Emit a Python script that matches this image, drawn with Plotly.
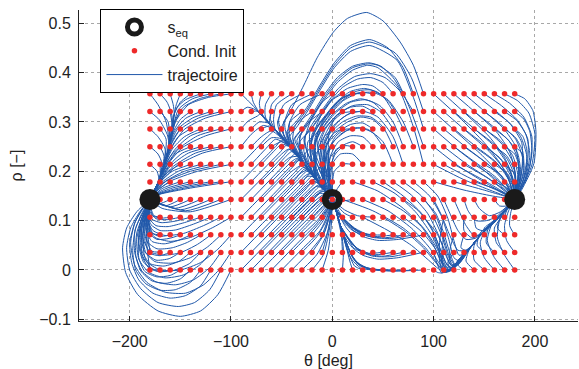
import plotly.graph_objects as go

# ---------------- data ----------------
theta_init = [-180, -170, -160, -150, -140, -130, -120, -110, -100, -90, -80, -70, -60, -50, -40,
              -30, -20, -10, 0, 10, 20, 30, 40, 50, 60, 70, 80, 90, 100, 110, 120, 130, 140,
              150, 160, 170, 180]
rho_init = [0.0, 0.0357, 0.0714, 0.1071, 0.1429, 0.1786, 0.2143, 0.25, 0.2857, 0.3214, 0.3571]

theta_eq = [-180, 0, 180]
rho_eq = [0.1429, 0.1429, 0.1429]

# shared bundles (spines), (theta, rho)
SL = [(-156,0.316),(-161,0.25),(-167,0.205),(-172,0.177),(-177,0.155),(-180,0.143)]
S0U = [(-71,0.316),(-56,0.283),(-41,0.249),(-28,0.215),(-15,0.181),(-7,0.16),(0,0.143)]
S0L = [(19,0.0),(14,0.045),(8,0.09),(3,0.125),(0,0.143)]
SR = [(108,-0.006),(117,0.003),(126,0.023),(136,0.045),(146,0.07),(158,0.095),(169,0.118),(180,0.143)]

# trajectories, (theta, rho) points
traj_left_upper = [
    [(-180,0.357),(-172,0.335),(-164,0.3)] + SL[1:],
    [(-170,0.357),(-163,0.34),(-158,0.31)] + SL[1:],
    [(-160,0.357),(-157,0.335)] + SL[0:],
    [(-150,0.357),(-154,0.335)] + SL[0:],
    [(-140,0.357),(-150,0.34)] + SL[0:],
    [(-130,0.357),(-145,0.345),(-153,0.33)] + SL[0:],
    [(-120,0.357),(-138,0.347),(-152,0.325)] + SL[1:],
    [(-110,0.357),(-130,0.348),(-147,0.33),(-156,0.3)] + SL[1:],
    [(-100,0.357),(-122,0.35),(-142,0.335),(-155,0.3)] + SL[1:],
    [(-180,0.321),(-171,0.305),(-163,0.275)] + SL[1:],
    [(-170,0.321),(-162,0.3)] + SL[1:],
    [(-160,0.321),(-158,0.29)] + SL[1:],
    [(-150,0.321),(-155,0.3)] + SL[1:],
    [(-140,0.321),(-150,0.305),(-157,0.28)] + SL[1:],
    [(-130,0.321),(-145,0.307),(-156,0.28)] + SL[1:],
    [(-120,0.321),(-138,0.308),(-153,0.285),(-160,0.255)] + SL[2:],
    [(-110,0.321),(-132,0.308),(-150,0.285),(-160,0.25)] + SL[2:],
    [(-100,0.321),(-125,0.308),(-146,0.285),(-158,0.25)] + SL[2:],
    [(-180,0.286),(-172,0.27),(-165,0.245)] + SL[2:],
    [(-170,0.286),(-164,0.265)] + SL[2:],
    [(-160,0.286),(-161,0.262)] + SL[2:],
    [(-150,0.286),(-157,0.265)] + SL[2:],
    [(-140,0.286),(-152,0.27),(-160,0.245)] + SL[2:],
    [(-130,0.286),(-146,0.27),(-158,0.245)] + SL[2:],
    [(-120,0.286),(-140,0.272),(-155,0.245)] + SL[2:],
    [(-110,0.286),(-133,0.272),(-152,0.245),(-163,0.215)] + SL[3:],
    [(-100,0.286),(-125,0.272),(-148,0.248),(-162,0.215)] + SL[3:],
    [(-180,0.25),(-172,0.235),(-168,0.215)] + SL[3:],
    [(-170,0.25),(-166,0.23)] + SL[3:],
    [(-160,0.25),(-164,0.225)] + SL[3:],
    [(-150,0.25),(-160,0.23)] + SL[3:],
    [(-140,0.25),(-155,0.235),(-164,0.21)] + SL[3:],
    [(-130,0.25),(-148,0.237),(-162,0.21)] + SL[3:],
    [(-120,0.25),(-142,0.237),(-160,0.21)] + SL[4:],
    [(-110,0.25),(-135,0.237),(-157,0.21),(-168,0.185)] + SL[4:],
    [(-100,0.25),(-128,0.237),(-153,0.212),(-167,0.185)] + SL[4:],
    [(-180,0.214),(-173,0.2),(-171,0.18)] + SL[4:],
    [(-170,0.214),(-170,0.19)] + SL[4:],
    [(-160,0.214),(-166,0.195)] + SL[4:],
    [(-150,0.214),(-163,0.198),(-171,0.178)] + SL[4:],
    [(-140,0.214),(-158,0.2),(-170,0.178)] + SL[4:],
    [(-130,0.214),(-152,0.2),(-168,0.178)] + SL[4:],
    [(-120,0.214),(-146,0.2),(-166,0.178)] + SL[4:],
    [(-110,0.214),(-140,0.2),(-164,0.18),(-174,0.16)] + SL[5:],
    [(-100,0.214),(-133,0.2),(-160,0.18),(-173,0.16)] + SL[5:],
    [(-170,0.179),(-175,0.16)] + SL[5:],
    [(-160,0.179),(-172,0.163)] + SL[5:],
    [(-150,0.179),(-168,0.165)] + SL[5:],
    [(-140,0.179),(-163,0.166),(-175,0.153)] + SL[5:],
    [(-130,0.179),(-158,0.166),(-174,0.153)] + SL[5:],
    [(-120,0.179),(-152,0.166),(-173,0.153)] + SL[5:],
    [(-110,0.179),(-146,0.166),(-172,0.153)] + SL[5:],
    [(-100,0.179),(-140,0.166),(-171,0.153)] + SL[5:],
    [(-170,0.143),(-176,0.14),(-180,0.143)],
    [(-160,0.143),(-170,0.135),(-180,0.143)],
    [(-150,0.143),(-165,0.13),(-180,0.143)],
    [(-140,0.143),(-160,0.128),(-180,0.143)],
    [(-130,0.143),(-155,0.125),(-180,0.143)],
    [(-120,0.143),(-150,0.122),(-180,0.143)],
    [(-110,0.143),(-145,0.12),(-180,0.143)],
    [(-100,0.143),(-140,0.118),(-168,0.125),(-180,0.143)],
]

traj_left_loops = [
    [(-100,0),(-113,-0.05),(-130,-0.083),(-150,-0.094),(-172,-0.083),(-192,-0.05),(-204,-0.005),(-207,0.045),(-203,0.085),(-193,0.118),(-180,0.143)],
    [(-110,0),(-121,-0.04),(-136,-0.066),(-152,-0.074),(-172,-0.066),(-189,-0.038),(-200,0.0),(-203,0.045),(-199,0.085),(-190,0.118),(-180,0.143)],
    [(-120,0),(-130,-0.032),(-145,-0.052),(-160,-0.057),(-177,-0.047),(-191,-0.02),(-198,0.015),(-200,0.055),(-195,0.095),(-188,0.122),(-180,0.143)],
    [(-130,0),(-140,-0.025),(-155,-0.04),(-170,-0.041),(-184,-0.028),(-194,0.0),(-197,0.04),(-194,0.085),(-186,0.12),(-180,0.143)],
    [(-140,0),(-150,-0.018),(-164,-0.027),(-178,-0.022),(-189,-0.002),(-194,0.03),(-193,0.075),(-186,0.115),(-180,0.143)],
    [(-150,0),(-160,-0.011),(-173,-0.014),(-185,-0.003),(-191,0.025),(-191,0.07),(-186,0.112),(-180,0.143)],
    [(-160,0),(-170,-0.004),(-181,0.004),(-188,0.03),(-189,0.07),(-185,0.11),(-180,0.143)],
    [(-170,0),(-178,0.002),(-185,0.025),(-187,0.065),(-184,0.108),(-180,0.143)],
    [(-100,0.036),(-112,0.0),(-127,-0.03),(-145,-0.047),(-165,-0.045),(-183,-0.025),(-195,0.01),(-199,0.055),(-195,0.095),(-187,0.124),(-180,0.143)],
    [(-110,0.036),(-121,0.005),(-137,-0.02),(-155,-0.03),(-174,-0.024),(-188,-0.002),(-195,0.035),(-195,0.078),(-188,0.115),(-180,0.143)],
    [(-120,0.036),(-131,0.01),(-147,-0.01),(-165,-0.016),(-181,-0.005),(-191,0.022),(-193,0.062),(-188,0.105),(-180,0.143)],
    [(-130,0.036),(-141,0.013),(-157,-0.001),(-173,-0.002),(-186,0.015),(-191,0.05),(-188,0.095),(-180,0.143)],
    [(-140,0.036),(-151,0.018),(-166,0.008),(-180,0.013),(-188,0.04),(-188,0.085),(-184,0.118),(-180,0.143)],
    [(-150,0.036),(-161,0.023),(-174,0.02),(-184,0.035),(-187,0.07),(-184,0.11),(-180,0.143)],
    [(-160,0.036),(-170,0.029),(-180,0.034),(-185,0.06),(-184,0.1),(-180,0.143)],
    [(-170,0.036),(-178,0.038),(-183,0.06),(-183,0.1),(-180,0.143)],
    [(-100,0.071),(-113,0.042),(-130,0.015),(-150,0.0),(-170,0.0),(-185,0.02),(-191,0.055),(-189,0.1),(-180,0.143)],
    [(-110,0.071),(-123,0.047),(-140,0.025),(-158,0.014),(-175,0.017),(-186,0.04),(-189,0.08),(-185,0.118),(-180,0.143)],
    [(-120,0.071),(-133,0.052),(-150,0.035),(-166,0.03),(-180,0.037),(-187,0.065),(-185,0.105),(-180,0.143)],
    [(-130,0.071),(-143,0.056),(-158,0.045),(-173,0.043),(-183,0.058),(-186,0.09),(-182,0.125),(-180,0.143)],
    [(-140,0.071),(-152,0.06),(-166,0.053),(-178,0.058),(-184,0.082),(-182,0.118),(-180,0.143)],
    [(-150,0.071),(-161,0.064),(-173,0.062),(-181,0.075),(-183,0.105),(-180,0.143)],
    [(-160,0.071),(-170,0.068),(-178,0.075),(-182,0.1),(-180,0.143)],
    [(-170,0.071),(-177,0.074),(-181,0.095),(-181,0.122),(-180,0.143)],
    [(-100,0.107),(-118,0.086),(-140,0.066),(-160,0.058),(-175,0.066),(-183,0.09),(-183,0.12),(-180,0.143)],
    [(-110,0.107),(-127,0.09),(-147,0.074),(-165,0.07),(-177,0.08),(-182,0.1),(-182,0.125),(-180,0.143)],
    [(-120,0.107),(-137,0.093),(-155,0.081),(-170,0.08),(-179,0.092),(-182,0.115),(-180,0.143)],
    [(-130,0.107),(-146,0.096),(-162,0.088),(-174,0.09),(-181,0.105),(-181,0.127),(-180,0.143)],
    [(-140,0.107),(-155,0.099),(-169,0.096),(-178,0.103),(-181,0.122),(-180,0.143)],
    [(-150,0.107),(-163,0.102),(-174,0.104),(-180,0.118),(-180,0.143)],
    [(-160,0.107),(-170,0.105),(-177,0.11),(-180,0.127),(-180,0.143)],
    [(-170,0.107),(-176,0.11),(-179,0.125),(-180,0.143)],
    [(-180,0.0),(-183,0.05),(-182,0.1),(-180,0.143)],
    [(-180,0.036),(-182,0.075),(-181,0.11),(-180,0.143)],
    [(-180,0.071),(-181,0.1),(-180,0.143)],
]

traj_mid = [
    [(-90,0),(-50,0.084),(-20,0.145),(-10,0.16),(-4,0.152),(0,0.143)],
    [(-80,0),(-45,0.074),(-18,0.13),(-7,0.147),(0,0.143)],
    [(-70,0),(-40,0.063),(-15,0.115),(-5,0.135),(0,0.143)],
    [(-60,0),(-35,0.053),(-15,0.095),(-5,0.125),(0,0.143)],
    [(-50,0),(-30,0.042),(-12,0.08),(-3,0.12),(0,0.143)],
    [(-40,0),(-22,0.038),(-8,0.075),(-2,0.115),(0,0.143)],
    [(-30,0),(-15,0.032),(-5,0.075),(-1,0.115),(0,0.143)],
    [(-20,0),(-9,0.03),(-3,0.08),(0,0.143)],
    [(-10,0),(-4,0.04),(-1,0.09),(0,0.143)],
    [(-90,0.036),(-55,0.11),(-30,0.16),(-18,0.18)] + S0U[5:],
    [(-80,0.036),(-50,0.099),(-25,0.15),(-14,0.172)] + S0U[5:],
    [(-70,0.036),(-40,0.099),(-20,0.14),(-9,0.16),(-3,0.152),(0,0.143)],
    [(-60,0.036),(-35,0.088),(-15,0.13),(-5,0.146),(0,0.143)],
    [(-50,0.036),(-28,0.082),(-12,0.115),(-4,0.135),(0,0.143)],
    [(-40,0.036),(-22,0.074),(-9,0.105),(-3,0.13),(0,0.143)],
    [(-30,0.036),(-15,0.068),(-6,0.1),(-2,0.128),(0,0.143)],
    [(-20,0.036),(-9,0.07),(-3,0.11),(0,0.143)],
    [(-10,0.036),(-4,0.08),(-1,0.12),(0,0.143)],
    [(-90,0.071),(-60,0.134),(-38,0.18),(-27,0.205)] + S0U[4:],
    [(-80,0.071),(-50,0.134),(-32,0.172),(-22,0.195)] + S0U[4:],
    [(-70,0.071),(-45,0.124),(-27,0.162),(-17,0.183)] + S0U[5:],
    [(-60,0.071),(-38,0.117),(-22,0.15),(-12,0.17)] + S0U[5:],
    [(-50,0.071),(-30,0.113),(-16,0.142),(-8,0.153),(0,0.143)],
    [(-40,0.071),(-22,0.108),(-10,0.135),(-3,0.145),(0,0.143)],
    [(-30,0.071),(-15,0.1),(-6,0.125),(0,0.143)],
    [(-20,0.071),(-9,0.1),(-3,0.125),(0,0.143)],
    [(-10,0.071),(-4,0.105),(0,0.143)],
    [(-90,0.107),(-60,0.17),(-42,0.208),(-34,0.225)] + S0U[3:],
    [(-80,0.107),(-55,0.16),(-38,0.196),(-30,0.212)] + S0U[4:],
    [(-70,0.107),(-48,0.153),(-33,0.185),(-25,0.2)] + S0U[4:],
    [(-60,0.107),(-40,0.149),(-27,0.176),(-20,0.19)] + S0U[4:],
    [(-50,0.107),(-33,0.143),(-22,0.165),(-15,0.178)] + S0U[5:],
    [(-40,0.107),(-25,0.138),(-15,0.158),(-9,0.163)] + S0U[5:],
    [(-30,0.107),(-17,0.134),(-8,0.15),(0,0.143)],
    [(-20,0.107),(-10,0.128),(-4,0.14),(0,0.143)],
    [(-10,0.107),(-4,0.125),(0,0.143)],
    [(-90,0.143),(-65,0.195),(-48,0.232),(-42,0.245)] + S0U[3:],
    [(-80,0.143),(-58,0.19),(-44,0.22),(-37,0.235)] + S0U[3:],
    [(-70,0.143),(-52,0.181),(-39,0.209),(-33,0.222)] + S0U[3:],
    [(-60,0.143),(-45,0.175),(-34,0.198),(-28,0.208)] + S0U[4:],
    [(-50,0.143),(-37,0.17),(-28,0.189),(-22,0.196)] + S0U[4:],
    [(-40,0.143),(-30,0.164),(-22,0.18),(-17,0.184)] + S0U[5:],
    [(-30,0.143),(-22,0.16),(-15,0.17),(-8,0.162)] + S0U[6:],
    [(-20,0.143),(-13,0.155),(-6,0.154),(0,0.143)],
    [(-10,0.143),(-5,0.148),(0,0.143)],
    [(-90,0.179),(-70,0.221),(-56,0.25),(-50,0.263)] + S0U[2:],
    [(-80,0.179),(-62,0.217),(-51,0.24),(-46,0.252)] + S0U[2:],
    [(-70,0.179),(-55,0.21),(-45,0.232),(-40,0.24)] + S0U[3:],
    [(-60,0.179),(-48,0.204),(-40,0.22),(-35,0.226)] + S0U[3:],
    [(-50,0.179),(-40,0.2),(-33,0.21)] + S0U[3:],
    [(-40,0.179),(-32,0.195),(-24,0.203)] + S0U[4:],
    [(-30,0.179),(-24,0.19),(-18,0.188)] + S0U[5:],
    [(-20,0.179),(-13,0.177),(-7,0.162),(0,0.143)],
    [(-10,0.179),(-6,0.167),(0,0.143)],
    [(-90,0.214),(-75,0.246),(-64,0.27)] + S0U[1:],
    [(-80,0.214),(-66,0.245),(-56,0.265)] + S0U[2:],
    [(-70,0.214),(-58,0.24),(-50,0.255)] + S0U[2:],
    [(-60,0.214),(-50,0.235),(-43,0.245)] + S0U[3:],
    [(-50,0.214),(-42,0.228),(-34,0.23)] + S0U[3:],
    [(-40,0.214),(-33,0.222)] + S0U[3:],
    [(-20,0.214),(-22,0.2)] + S0U[5:],
    [(-10,0.214),(-15,0.2),(-12,0.178),(-6,0.16),(0,0.143)],
    [(-90,0.25),(-80,0.275),(-68,0.293)] + S0U[1:],
    [(-80,0.25),(-70,0.27),(-60,0.282)] + S0U[2:],
    [(-70,0.25),(-60,0.268),(-50,0.266)] + S0U[2:],
    [(-60,0.25),(-50,0.26)] + S0U[2:],
    [(-30,0.25),(-33,0.238)] + S0U[3:],
    [(-20,0.25),(-27,0.235),(-26,0.215)] + S0U[4:],
    [(-10,0.25),(-18,0.23),(-18,0.2)] + S0U[5:],
    [(-90,0.286),(-83,0.302),(-74,0.312)] + S0U[0:],
    [(-80,0.286),(-72,0.3),(-62,0.297)] + S0U[1:],
    [(-70,0.286),(-62,0.292)] + S0U[1:],
    [(-50,0.286),(-47,0.268)] + S0U[2:],
    [(-30,0.286),(-38,0.265),(-38,0.245)] + S0U[3:],
    [(-20,0.286),(-32,0.26),(-32,0.235)] + S0U[4:],
    [(-10,0.286),(-24,0.26),(-24,0.225)] + S0U[4:],
    [(-90,0.321),(-84,0.33),(-76,0.325)] + S0U[0:],
    [(-80,0.321),(-74,0.322)] + S0U[0:],
    [(-70,0.321),(-68,0.31)] + S0U[1:],
    [(-60,0.321),(-62,0.3)] + S0U[1:],
    [(-50,0.321),(-54,0.3),(-52,0.28)] + S0U[2:],
    [(-40,0.321),(-48,0.3),(-48,0.275)] + S0U[2:],
    [(-30,0.321),(-42,0.3),(-44,0.275)] + S0U[2:],
    [(-20,0.321),(-36,0.295),(-39,0.265)] + S0U[3:],
    [(-10,0.321),(-28,0.29),(-33,0.255)] + S0U[3:],
    [(-90,0.357),(-84,0.345),(-76,0.328)] + S0U[0:],
    [(-80,0.357),(-78,0.34),(-73,0.322)] + S0U[0:],
    [(-70,0.357),(-72,0.338),(-70,0.318)] + S0U[1:],
    [(-60,0.357),(-66,0.335),(-66,0.31)] + S0U[1:],
    [(-50,0.357),(-60,0.335),(-61,0.305)] + S0U[1:],
    [(-40,0.357),(-55,0.335),(-58,0.305)] + S0U[1:],
    [(-30,0.357),(-48,0.335),(-53,0.3)] + S0U[2:],
    [(-20,0.357),(-40,0.335),(-47,0.3),(-45,0.27)] + S0U[2:],
    [(-10,0.357),(-32,0.335),(-42,0.3),(-42,0.27)] + S0U[3:],
]

traj_arches = [
    [(90,0.357),(80,0.415),(67,0.462),(50,0.505),(34,0.522),(15,0.51),(1,0.482),(-15,0.43),(-28,0.375),(-40,0.327),(-50,0.29),(-52,0.275),(-45,0.258),(-30,0.222),(-15,0.181),(0,0.143)],
    [(80,0.357),(70,0.41),(55,0.45),(37,0.467),(18,0.455),(2,0.42),(-12,0.375),(-25,0.33),(-36,0.3),(-45,0.28),(-42,0.258),(-30,0.222),(-15,0.181),(0,0.143)],
    [(90,0.321),(78,0.39),(62,0.44),(37,0.462),(18,0.45),(2,0.415),(-12,0.37),(-25,0.325),(-36,0.295),(-44,0.275),(-40,0.255),(-28,0.215),(-15,0.181),(0,0.143)],
    [(90,0.286),(80,0.35),(64,0.425),(37,0.455),(18,0.443),(2,0.41),(-12,0.365),(-25,0.32),(-35,0.29),(-42,0.27),(-38,0.25),(-28,0.215),(-15,0.181),(0,0.143)],
    [(70,0.357),(60,0.39),(48,0.413),(36,0.42),(20,0.413),(5,0.39),(-8,0.355),(-20,0.315),(-30,0.285),(-37,0.265),(-32,0.24),(-22,0.205),(-10,0.17),(0,0.143)],
    [(90,0.25),(78,0.32),(62,0.39),(45,0.415),(36,0.418),(20,0.41),(5,0.385),(-8,0.35),(-20,0.31),(-30,0.28),(-35,0.262),(-28,0.228),(-15,0.182),(0,0.143)],
    [(90,0.214),(80,0.29),(65,0.37),(45,0.41),(35,0.415),(20,0.405),(5,0.38),(-10,0.34),(-22,0.3),(-32,0.27),(-30,0.24),(-20,0.2),(0,0.143)],
    [(60,0.357),(50,0.38),(38,0.39),(25,0.387),(10,0.37),(-5,0.335),(-18,0.295),(-27,0.27),(-25,0.24),(-15,0.2),(0,0.143)],
    [(50,0.357),(40,0.373),(30,0.376),(15,0.368),(0,0.345),(-12,0.31),(-22,0.28),(-22,0.25),(-12,0.2),(0,0.143)],
    [(80,0.321),(68,0.36),(52,0.39),(38,0.398),(22,0.392),(6,0.368),(-8,0.33),(-20,0.295),(-28,0.265),(-24,0.235),(-14,0.19),(0,0.143)],
    [(70,0.286),(58,0.335),(45,0.36),(32,0.368),(18,0.362),(4,0.34),(-10,0.305),(-20,0.275),(-20,0.245),(-12,0.2),(0,0.143)],
    [(80,0.25),(70,0.3),(55,0.345),(40,0.36),(25,0.358),(10,0.342),(-4,0.31),(-16,0.275),(-18,0.245),(-10,0.2),(0,0.143)],
    [(40,0.357),(30,0.36),(18,0.355),(5,0.335),(-8,0.3),(-15,0.265),(-12,0.225),(-5,0.18),(0,0.143)],
    [(60,0.286),(48,0.32),(35,0.335),(20,0.333),(5,0.315),(-7,0.285),(-12,0.255),(-8,0.21),(0,0.143)],
    [(70,0.214),(60,0.27),(45,0.31),(30,0.322),(15,0.315),(0,0.29),(-8,0.26),(-8,0.22),(-3,0.18),(0,0.143)],
    [(50,0.286),(40,0.305),(28,0.31),(15,0.3),(2,0.28),(-6,0.25),(-5,0.21),(0,0.143)],
    [(60,0.214),(50,0.26),(35,0.285),(20,0.288),(8,0.275),(-2,0.25),(-4,0.21),(0,0.143)],
    [(30,0.321),(20,0.32),(8,0.305),(-2,0.28),(-8,0.25),(-7,0.21),(-3,0.175),(0,0.143)],
    [(40,0.25),(30,0.27),(18,0.272),(6,0.26),(-2,0.23),(-3,0.19),(0,0.143)],
    [(20,0.286),(12,0.285),(3,0.27),(-4,0.24),(-4,0.2),(0,0.143)],
    [(30,0.214),(20,0.235),(8,0.235),(0,0.215),(-2,0.18),(0,0.143)],
    [(20,0.214),(10,0.215),(2,0.2),(0,0.17),(0,0.143)],
    [(10,0.321),(3,0.31),(-3,0.28),(-4,0.24),(-3,0.2),(0,0.143)],
    [(10,0.25),(4,0.245),(0,0.22),(0,0.18),(0,0.143)],
    [(60,0.321),(50,0.352),(38,0.365),(25,0.363),(10,0.348),(-4,0.318),(-16,0.285),(-22,0.258)] + S0U[4:],
    [(70,0.25),(60,0.3),(47,0.333),(33,0.345),(18,0.34),(3,0.318),(-10,0.285),(-17,0.255)] + S0U[4:],
    [(50,0.321),(40,0.34),(28,0.347),(14,0.338),(0,0.315),(-12,0.28),(-18,0.25)] + S0U[4:],
    [(40,0.321),(30,0.332),(18,0.33),(5,0.315),(-8,0.285),(-14,0.255),(-12,0.22)] + S0U[5:],
    [(60,0.25),(50,0.29),(38,0.31),(24,0.312),(10,0.3),(-3,0.275),(-10,0.245)] + S0U[5:],
    [(50,0.25),(40,0.278),(28,0.288),(14,0.282),(2,0.262),(-6,0.235)] + S0U[5:],
    [(40,0.286),(30,0.298),(18,0.295),(6,0.28),(-5,0.255),(-8,0.225)] + S0U[5:],
    [(30,0.25),(20,0.26),(8,0.25),(-2,0.228)] + S0U[5:],
    [(20,0.357),(10,0.35),(0,0.33),(-10,0.3),(-16,0.265)] + S0U[4:],
    [(30,0.357),(20,0.357),(8,0.345),(-4,0.318),(-14,0.28),(-18,0.25)] + S0U[4:],
    [(10,0.357),(0,0.345),(-10,0.318),(-18,0.28),(-22,0.245)] + S0U[4:],
    [(0,0.357),(-10,0.34),(-20,0.31),(-26,0.275),(-28,0.24)] + S0U[4:],
    [(20,0.321),(10,0.318),(0,0.3),(-8,0.27),(-12,0.235)] + S0U[5:],
    [(0,0.321),(-10,0.305),(-18,0.275),(-22,0.24)] + S0U[4:],
    [(0,0.286),(-8,0.27),(-14,0.245),(-16,0.21)] + S0U[5:],
    [(0,0.25),(-5,0.235),(-8,0.205)] + S0U[5:],
    [(0,0.214),(-3,0.195),(-4,0.17),(0,0.143)],
    [(0,0.179),(-1,0.16),(0,0.143)],
    [(10,0.286),(2,0.278),(-6,0.255),(-9,0.22)] + S0U[5:],
    [(20,0.25),(12,0.252),(3,0.235),(-3,0.2)] + S0U[6:],
    [(10,0.179),(5,0.165),(0,0.143)],
]

traj_center_fan = [
    [(10,0.143),(40,0.12),(70,0.085),(92,0.045),(104,0.012),(112,-0.004),(121,0.006),(128,0.025),(136,0.045)] + SR[4:],
    [(30,0.143),(55,0.12),(78,0.085),(96,0.045),(106,0.012),(114,-0.003),(122,0.008),(130,0.03),(138,0.05)] + SR[4:],
    [(50,0.143),(70,0.12),(88,0.088),(100,0.05),(108,0.015),(115,0.0),(123,0.01),(131,0.032),(140,0.055)] + SR[4:],
    [(70,0.143),(85,0.12),(98,0.085),(106,0.045),(112,0.015),(118,0.004),(126,0.015),(134,0.038)] + SR[4:],
    [(90,0.143),(102,0.115),(110,0.075),(116,0.035),(121,0.012),(128,0.02),(136,0.045)] + SR[4:],
    [(20,0.179),(45,0.16),(70,0.125),(90,0.085),(103,0.045),(110,0.012),(116,0.0),(124,0.012),(132,0.035)] + SR[4:],
    [(40,0.179),(62,0.155),(82,0.118),(97,0.075),(107,0.032),(113,0.006),(120,0.004),(128,0.026)] + SR[3:],
    [(50,0.179),(70,0.15),(88,0.115),(100,0.075),(108,0.035),(114,0.008),(121,0.005),(129,0.028)] + SR[3:],
    [(60,0.179),(78,0.152),(94,0.115),(105,0.07),(112,0.03),(118,0.008),(125,0.012),(132,0.034)] + SR[3:],
    [(70,0.179),(88,0.15),(102,0.11),(110,0.065),(116,0.025),(122,0.008),(130,0.03)] + SR[3:],
    [(80,0.179),(96,0.15),(108,0.108),(115,0.062),(120,0.025),(126,0.018),(134,0.04)] + SR[4:],
    [(90,0.179),(104,0.15),(114,0.105),(120,0.06),(125,0.03),(132,0.035),(140,0.055)] + SR[4:],
    [(30,0.107),(55,0.08),(78,0.05),(95,0.02),(105,0.002),(112,-0.005),(120,0.002)] + SR[2:],
    [(50,0.107),(72,0.078),(90,0.045),(102,0.015),(110,-0.002),(118,0.0)] + SR[2:],
    [(70,0.107),(88,0.078),(101,0.045),(108,0.015),(113,0.0),(119,0.003)] + SR[2:],
    [(90,0.107),(103,0.075),(111,0.04),(116,0.012),(121,0.008),(127,0.025)] + SR[3:],
    [(100,0.071),(106,0.035),(110,0.008),(114,-0.002)] + SR[1:],
    [(100,0.036),(104,0.01),(108,-0.006)] + SR[1:],
    [(100,0.0),(104,-0.005)] + SR[0:],
    [(100,0.107),(108,0.07),(114,0.03),(119,0.01),(125,0.015)] + SR[3:],
]

traj_center_low = [
    [(90,0.0),(65,-0.002),(42,0.0),(28,0.008),(20,0.025),(14,0.055),(8,0.09),(3,0.125),(0,0.143)],
    [(70,0.0),(50,0.0),(33,0.005),(22,0.02),(15,0.05)] + S0L[2:],
    [(50,0.0),(36,0.002),(25,0.012),(17,0.04)] + S0L[2:],
    [(30,0.0),(22,0.008),(16,0.035)] + S0L[2:],
    [(10,0.0),(11,0.04)] + S0L[2:],
    [(20,0.0),(17,0.02)] + S0L[1:],
    [(80,0.0),(58,-0.002),(38,0.002),(25,0.014),(17,0.038)] + S0L[2:],
    [(60,0.0),(43,0.001),(29,0.008),(19,0.03)] + S0L[2:],
    [(40,0.0),(28,0.004),(19,0.022)] + S0L[1:],
    [(90,0.036),(65,0.025),(45,0.022),(30,0.03),(20,0.045),(13,0.065)] + S0L[2:],
    [(70,0.036),(50,0.028),(33,0.033),(22,0.048),(14,0.068)] + S0L[2:],
    [(50,0.036),(36,0.034),(24,0.045),(15,0.068)] + S0L[2:],
    [(30,0.036),(21,0.045),(14,0.07)] + S0L[2:],
    [(10,0.036),(9,0.07)] + S0L[3:],
    [(80,0.036),(58,0.027),(40,0.028),(26,0.04),(16,0.062)] + S0L[2:],
    [(60,0.036),(43,0.031),(28,0.038),(18,0.058)] + S0L[2:],
    [(90,0.071),(65,0.062),(45,0.06),(30,0.068),(18,0.085),(10,0.105)] + S0L[3:],
    [(70,0.071),(50,0.065),(33,0.07),(20,0.087),(10,0.107)] + S0L[3:],
    [(50,0.071),(35,0.072),(22,0.085),(11,0.105)] + S0L[3:],
    [(30,0.071),(20,0.08),(10,0.1)] + S0L[3:],
    [(10,0.071),(6,0.105)] + S0L[3:],
    [(10,0.107),(5,0.125),(0,0.143)],
    [(80,0.071),(58,0.064),(40,0.066),(26,0.076),(14,0.097)] + S0L[3:],
    [(60,0.071),(42,0.068),(28,0.076),(16,0.093)] + S0L[3:],
    [(40,0.071),(28,0.076),(16,0.09)] + S0L[3:],
    [(20,0.071),(14,0.085)] + S0L[3:],
    [(20,0.107),(12,0.115),(5,0.13),(0,0.143)],
    [(40,0.107),(25,0.11),(12,0.122),(0,0.143)],
    [(20,0.143),(10,0.14),(0,0.143)],
]

traj_right_upper = [
    [(100,0.357),(125,0.31),(150,0.258),(166,0.215),(175,0.178),(180,0.143)],
    [(110,0.357),(133,0.314),(155,0.27),(170,0.228),(178,0.185),(180,0.143)],
    [(120,0.357),(142,0.318),(162,0.28),(175,0.24),(181,0.19),(180,0.143)],
    [(130,0.357),(150,0.322),(169,0.287),(181,0.25),(184,0.195),(180,0.143)],
    [(140,0.357),(158,0.328),(176,0.295),(187,0.258),(187,0.2),(182,0.155),(180,0.143)],
    [(150,0.357),(167,0.333),(183,0.303),(193,0.265),(192,0.205),(184,0.158),(180,0.143)],
    [(160,0.357),(175,0.338),(189,0.31),(197,0.27),(195,0.21),(185,0.16),(180,0.143)],
    [(170,0.357),(183,0.343),(194,0.318),(200,0.275),(197,0.213),(186,0.162),(180,0.143)],
    [(180,0.357),(190,0.347),(198,0.323),(201,0.28),(199,0.216),(187,0.163),(180,0.143)],
    [(100,0.321),(125,0.275),(148,0.232),(165,0.195),(175,0.165),(180,0.143)],
    [(110,0.321),(133,0.28),(155,0.24),(170,0.203),(178,0.17),(180,0.143)],
    [(120,0.321),(142,0.283),(162,0.247),(174,0.21),(180,0.172),(180,0.143)],
    [(130,0.321),(150,0.287),(168,0.254),(179,0.215),(181,0.175),(180,0.143)],
    [(140,0.321),(158,0.292),(175,0.26),(184,0.22),(183,0.175),(180,0.143)],
    [(150,0.321),(166,0.296),(181,0.265),(188,0.225),(185,0.178),(180,0.143)],
    [(160,0.321),(174,0.3),(186,0.27),(192,0.23),(188,0.18),(180,0.143)],
    [(170,0.321),(182,0.303),(191,0.275),(195,0.233),(190,0.182),(180,0.143)],
    [(180,0.321),(189,0.306),(195,0.28),(197,0.237),(191,0.183),(180,0.143)],
    [(100,0.286),(125,0.242),(148,0.205),(166,0.172),(180,0.143)],
    [(110,0.286),(133,0.247),(155,0.212),(170,0.178),(180,0.143)],
    [(120,0.286),(142,0.25),(162,0.218),(174,0.183),(180,0.143)],
    [(130,0.286),(150,0.254),(167,0.222),(177,0.186),(180,0.143)],
    [(140,0.286),(158,0.258),(172,0.227),(180,0.19),(180,0.143)],
    [(150,0.286),(166,0.262),(178,0.232),(183,0.193),(180,0.143)],
    [(160,0.286),(173,0.265),(183,0.236),(186,0.195),(182,0.16),(180,0.143)],
    [(170,0.286),(181,0.268),(188,0.24),(189,0.197),(183,0.16),(180,0.143)],
    [(180,0.286),(188,0.271),(192,0.243),(191,0.198),(184,0.16),(180,0.143)],
    [(100,0.25),(125,0.21),(150,0.178),(180,0.143)],
    [(110,0.25),(133,0.214),(156,0.183),(180,0.143)],
    [(120,0.25),(142,0.217),(162,0.187),(180,0.143)],
    [(130,0.25),(150,0.22),(167,0.19),(180,0.143)],
    [(140,0.25),(157,0.225),(172,0.194),(180,0.143)],
    [(150,0.25),(165,0.228),(176,0.197),(180,0.143)],
    [(160,0.25),(172,0.232),(180,0.2),(181,0.165),(180,0.143)],
    [(170,0.25),(180,0.235),(185,0.203),(182,0.165),(180,0.143)],
    [(180,0.25),(187,0.237),(189,0.205),(184,0.165),(180,0.143)],
    [(100,0.214),(130,0.183),(158,0.16),(180,0.143)],
    [(110,0.214),(137,0.185),(162,0.162),(180,0.143)],
    [(120,0.214),(145,0.187),(165,0.163),(180,0.143)],
    [(130,0.214),(152,0.188),(169,0.164),(180,0.143)],
    [(140,0.214),(158,0.19),(172,0.165),(180,0.143)],
    [(150,0.214),(166,0.193),(176,0.166),(180,0.143)],
    [(160,0.214),(173,0.195),(179,0.168),(180,0.143)],
    [(170,0.214),(179,0.197),(182,0.169),(180,0.143)],
    [(180,0.214),(185,0.2),(184,0.17),(180,0.143)],
    [(100,0.179),(130,0.162),(158,0.15),(180,0.143)],
    [(120,0.179),(148,0.163),(168,0.151),(180,0.143)],
    [(140,0.179),(160,0.165),(174,0.152),(180,0.143)],
    [(160,0.179),(172,0.167),(178,0.153),(180,0.143)],
    [(180,0.179),(182,0.165),(180,0.143)],
]

traj_right_low = [
    [(180,0.0),(170,0.03),(163,0.065),(165,0.1),(172,0.125),(180,0.143)],
    [(170,0.0),(160,0.025),(153,0.06),(158,0.095),(169,0.118),(180,0.143)],
    [(160,0.0),(150,0.025),(146,0.055),(152,0.085),(162,0.105),(172,0.125),(180,0.143)],
    [(150,0.0),(140,0.02),(140,0.05),(148,0.075),(158,0.095),(169,0.118),(180,0.143)],
    [(140,0.0),(132,0.018),(136,0.045),(146,0.07),(158,0.095),(169,0.118),(180,0.143)],
    [(130,0.0),(124,0.01),(128,0.03),(138,0.05),(146,0.07),(158,0.095),(180,0.143)],
    [(180,0.036),(172,0.06),(170,0.09),(174,0.12),(180,0.143)],
    [(180,0.071),(175,0.09),(176,0.115),(180,0.143)],
    [(170,0.071),(163,0.085),(166,0.108),(174,0.128),(180,0.143)],
    [(160,0.036),(152,0.055),(154,0.085),(164,0.108),(180,0.143)],
    [(120,0.143),(125,0.12),(132,0.09),(140,0.07),(150,0.075),(160,0.097),(169,0.118),(180,0.143)],
    [(110,0.071),(108,0.03),(110,0.0),(117,0.003),(126,0.023),(136,0.045),(146,0.07),(158,0.095),(169,0.118),(180,0.143)],
    [(120,0.071),(116,0.04),(117,0.01),(124,0.015),(134,0.04),(146,0.07),(158,0.095),(169,0.118),(180,0.143)],
    [(110,0.107),(106,0.06),(106,0.015),(110,-0.004),(117,0.003),(126,0.023),(136,0.045),(146,0.07),(169,0.118),(180,0.143)],
    [(140,0.107),(142,0.085),(148,0.08),(158,0.095),(169,0.118),(180,0.143)],
    [(140,0.143),(145,0.125),(155,0.11),(166,0.118),(180,0.143)],
    [(170,0.036),(162,0.055),(160,0.085),(168,0.11),(180,0.143)],
    [(150,0.036),(143,0.05),(146,0.075),(158,0.095),(169,0.118),(180,0.143)],
    [(150,0.071),(150,0.085),(158,0.098),(169,0.118),(180,0.143)],
    [(170,0.107),(172,0.12),(180,0.143)],
    [(160,0.143),(165,0.13),(172,0.13),(180,0.143)],
    [(120,0.036),(114,0.015),(117,0.003),(126,0.023),(136,0.045),(146,0.07),(158,0.095),(169,0.118),(180,0.143)],
    [(130,0.071),(127,0.045),(132,0.04),(140,0.055),(150,0.078),(162,0.1),(180,0.143)],
    [(130,0.107),(130,0.08),(138,0.065),(148,0.075),(160,0.098),(180,0.143)],
    [(110,0.036),(107,0.008),(110,-0.004),(117,0.003),(126,0.023),(136,0.045),(146,0.07),(158,0.095),(169,0.118),(180,0.143)],
    [(110,0.0),(112,-0.004)] + SR[1:],
    [(120,0.0),(121,0.008)] + SR[2:],
    [(100,0.143),(108,0.11),(116,0.07),(124,0.04),(132,0.04),(140,0.055)] + SR[4:],
    [(110,0.143),(116,0.115),(124,0.08),(132,0.062),(142,0.065),(152,0.085)] + SR[5:],
    [(130,0.143),(134,0.12),(142,0.1),(152,0.1),(162,0.108),(172,0.128),(180,0.143)],
]

# ---------------- figure ----------------
def flatten(curves):
    xs, ys = [], []
    for c in curves:
        for t, r in c:
            xs.append(t)
            ys.append(r)
        xs.append(None)
        ys.append(None)
    return xs, ys

LINE_COLOR = '#2058aa'
fig = go.Figure()

families = [traj_left_upper, traj_left_loops, traj_mid, traj_arches, traj_center_fan,
            traj_center_low, traj_right_upper, traj_right_low]
for i, fam in enumerate(families):
    xs, ys = flatten(fam)
    fig.add_trace(go.Scatter(
        x=xs, y=ys, mode='lines',
        line=dict(color=LINE_COLOR, width=1, shape='spline', smoothing=0.6),
        name='trajectoire', showlegend=(i == 0),
        legendrank=3, connectgaps=False, hoverinfo='skip'))

gx = [t for r in rho_init for t in theta_init]
gy = [r for r in rho_init for t in theta_init]
fig.add_trace(go.Scatter(
    x=gx, y=gy, mode='markers',
    marker=dict(color='#ee2a2a', size=5.5),
    name='Cond. Init', legendrank=2))

fig.add_trace(go.Scatter(
    x=[theta_eq[0], theta_eq[2]], y=[rho_eq[0], rho_eq[2]], mode='markers',
    marker=dict(symbol='circle', color='#1a1a1a', size=21),
    showlegend=False))
fig.add_trace(go.Scatter(
    x=[theta_eq[1]], y=[rho_eq[1]], mode='markers',
    marker=dict(symbol='circle-open', color='#1a1a1a', size=14,
                line=dict(width=7, color='#1a1a1a')),
    name='s<sub>eq</sub>', legendrank=1))

FONT = 'Liberation Sans'
fig.update_layout(
    width=579, height=369,
    margin=dict(l=79, r=1, t=10, b=48, autoexpand=False),
    paper_bgcolor='white', plot_bgcolor='white',
    font=dict(family=FONT, size=16, color='#222222'),
    showlegend=True,
    legend=dict(x=0.043, y=1.003, xanchor='left', yanchor='top',
                bgcolor='white', bordercolor='black', borderwidth=1,
                font=dict(size=16, color='#222222'),
                itemwidth=56, tracegroupgap=0),
)
fig.update_xaxes(
    range=[-250, 242.5], tickvals=[-200, -100, 0, 100, 200],
    ticktext=['−200', '−100', '0', '100', '200'],
    showgrid=True, gridcolor='#a8a8a8', griddash='dot', gridwidth=1,
    zeroline=False, showline=True, linecolor='#222222', linewidth=1,
    ticks='inside', ticklen=5, tickcolor='#222222', automargin=False,
    ticklabelstandoff=6,
    title=dict(text='θ [deg]', standoff=8, font=dict(size=16)))
fig.update_yaxes(
    range=[-0.1034, 0.527], tickvals=[-0.1, 0, 0.1, 0.2, 0.3, 0.4, 0.5],
    ticktext=['−0.1', '0', '0.1', '0.2', '0.3', '0.4', '0.5'],
    showgrid=True, gridcolor='#a8a8a8', griddash='dot', gridwidth=1,
    zeroline=False, showline=True, linecolor='#222222', linewidth=1,
    ticks='inside', ticklen=5, tickcolor='#222222', automargin=False,
    ticklabelstandoff=4,
    title=dict(text='ρ [−]', standoff=12, font=dict(size=16)))

fig.write_html('out.html', config={'displayModeBar': False},
               post_script="document.body.style.margin='0px';")
